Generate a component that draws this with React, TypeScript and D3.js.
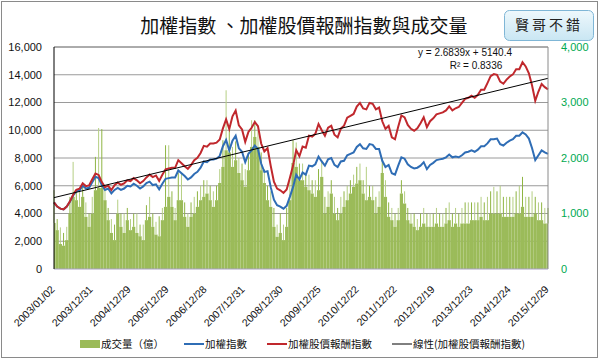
import * as d3 from "d3";

const TITLE = "加權指數 、加權股價報酬指數與成交量";
const BADGE = "賢哥不錯";

const DATE_LABELS = [
  "2003/01/02", "2003/12/31", "2004/12/29", "2005/12/29", "2006/12/28",
  "2007/12/31", "2008/12/30", "2009/12/25", "2010/12/22", "2011/12/22",
  "2012/12/19", "2013/12/23", "2014/12/24", "2015/12/29",
];

// monthly readings, 2003/01 .. 2015/12
const TAIEX = [
  4800, 4500, 4350, 4300, 4500, 4850, 5300, 5600, 5650, 6000, 5800, 5850,
  6250, 6650, 6550, 6050, 5700, 5800, 5450, 5700, 5850, 5700, 5800, 6000,
  5950, 6150, 6000, 5800, 5950, 6200, 6300, 6050, 6100, 5750, 6150, 6500,
  6550, 6600, 6600, 7100, 6900, 6700, 6450, 6600, 6850, 7000, 7300, 7750,
  7700, 7900, 7900, 7950, 8150, 8850, 9300, 8550, 9250, 9600, 8700, 8450,
  7700, 8300, 8550, 8900, 8650, 7600, 7000, 7050, 5900, 5000, 4600, 4500,
  4350, 4550, 5200, 5900, 6800, 6450, 6950, 6800, 7450, 7400, 7550, 8100,
  7750, 7450, 7900, 8000, 7500, 7350, 7750, 7800, 8200, 8300, 8400, 8800,
  9000, 8700, 8650, 9000, 8950, 8650, 8650, 7800, 7350, 7500, 6900, 6800,
  7450, 8050, 7950, 7550, 7350, 7250, 7300, 7450, 7700, 7200, 7500, 7650,
  7850, 7900, 7950, 8050, 8250, 8050, 8100, 8050, 8200, 8400, 8450, 8550,
  8450, 8600, 8850, 8850, 9050, 9350, 9350, 9400, 9000, 8900, 9100, 9250,
  9350, 9600, 9600, 9850, 9700, 9400, 8700, 7850, 8200, 8550, 8400, 8300,
];

const RETURN_INDEX = [
  4800, 4500, 4350, 4300, 4500, 4874, 5353, 5712, 5791, 6180, 5974, 6026,
  6469, 6883, 6779, 6262, 5900, 6003, 5695, 6042, 6230, 6071, 6177, 6390,
  6337, 6550, 6390, 6177, 6337, 6603, 6804, 6625, 6741, 6354, 6796, 7183,
  7238, 7293, 7293, 7846, 7625, 7404, 7224, 7491, 7843, 8015, 8359, 8874,
  8817, 9046, 9046, 9103, 9332, 10133, 10788, 10089, 11008, 11424, 10353, 10056,
  9163, 9877, 10175, 10591, 10294, 9044, 8470, 8707, 7434, 6300, 5796, 5670,
  5481, 5733, 6552, 7434, 8568, 8127, 8827, 8738, 9611, 9546, 9740, 10449,
  9998, 9611, 10191, 10320, 9675, 9482, 10114, 10335, 10906, 11039, 11172, 11704,
  11970, 11571, 11505, 11970, 11904, 11505, 11634, 10647, 10106, 10313, 9488, 9350,
  10244, 11069, 10931, 10381, 10106, 9969, 10147, 10505, 10934, 10224, 10650, 10863,
  11147, 11218, 11289, 11431, 11715, 11431, 11583, 11673, 11972, 12264, 12337, 12483,
  12337, 12556, 12921, 12921, 13400, 13900, 14050, 14000, 13500, 13350, 13650, 13875,
  14025, 14400, 14400, 14900, 14600, 14100, 13224, 12128, 12792, 13338, 13104, 12948,
];

// 成交量（億）: typical monthly level and the highest daily spike
const VOLUME_BASE = [
  830, 700, 450, 420, 520, 1000, 1300, 1240, 1120, 1300, 940, 760,
  1000, 1420, 1460, 1460, 1240, 880, 650, 520, 1000, 760, 650, 880,
  700, 760, 650, 590, 520, 880, 940, 760, 620, 590, 880, 1120,
  1300, 1120, 880, 1240, 1240, 940, 760, 940, 1000, 1120, 1240, 1300,
  1360, 1240, 1120, 1240, 1550, 1840, 2140, 2100, 1840, 1960, 1730, 1600,
  1480, 1780, 2200, 2380, 2200, 1780, 1550, 1240, 1120, 760, 580, 650,
  520, 760, 1240, 1910, 1840, 1600, 1600, 1480, 1420, 1360, 1300, 1420,
  1660, 1000, 1120, 1360, 1000, 880, 1000, 1120, 1240, 1360, 1480, 1540,
  1600, 1360, 1240, 1300, 1240, 1000, 1120, 1730, 1300, 940, 880, 760,
  880, 1360, 1180, 880, 820, 760, 700, 760, 820, 760, 760, 760,
  820, 760, 760, 820, 880, 760, 820, 760, 820, 820, 820, 880,
  880, 880, 940, 880, 880, 1000, 1000, 1000, 1000, 940, 940, 940,
  940, 1000, 1000, 1120, 940, 940, 940, 1000, 880, 880, 820, 820,
];

const VOLUME_PEAK = [
  1420, 900, 750, 650, 760, 1300, 1930, 1430, 1430, 1500, 1200, 1000,
  1300, 2020, 2540, 2520, 1430, 1100, 900, 800, 1250, 1000, 1000, 1100,
  900, 1000, 1000, 800, 800, 1150, 1300, 1000, 850, 950, 1100, 2230,
  2230, 1400, 1100, 1730, 1730, 1200, 1000, 1200, 1300, 1400, 1500, 1600,
  1600, 1500, 1400, 1500, 1800, 2320, 3220, 2560, 2200, 2300, 2000, 1900,
  1800, 2100, 2680, 2680, 2500, 2100, 1800, 1500, 1400, 1100, 800, 1000,
  800, 1100, 1600, 2320, 2280, 1900, 1900, 1700, 1700, 1600, 1600, 1800,
  1960, 1300, 1400, 1600, 1300, 1100, 1300, 1400, 1500, 1600, 1700, 1840,
  1900, 1600, 1840, 1500, 1500, 1300, 1400, 2000, 1600, 1200, 1100, 1000,
  1100, 1600, 1400, 1100, 1000, 1000, 900, 1000, 1100, 1000, 1000, 1000,
  1100, 1000, 1000, 1100, 1200, 1000, 1100, 1000, 1100, 1200, 1200, 1200,
  1200, 1200, 1300, 1200, 1300, 1400, 1480, 1400, 1500, 1300, 1300, 1300,
  1300, 1400, 1500, 1660, 1300, 1300, 1400, 1300, 1200, 1200, 1100, 1100,
];

const LEFT_TICKS = [0, 2000, 4000, 6000, 8000, 10000, 12000, 14000, 16000];
const RIGHT_TICKS = [0, 1000, 2000, 3000, 4000];

// Excel linear trendline on the trading-day index
const TREND_SLOPE = 2.6839;
const TREND_INTERCEPT = 5140.4;
const TREND_R2 = "0.8336";
const TRADING_DAYS = 3205;

const LEGEND = [
  { label: "成交量（億）", kind: "bar", color: "#9bbb59" },
  { label: "加權指數", kind: "line", color: "#2f6db5" },
  { label: "加權股價報酬指數", kind: "line", color: "#c0282d" },
  { label: "線性(加權股價報酬指數)", kind: "trend", color: "#000" },
];

const W = 600;
const H = 362;
const PLOT = { left: 54, right: 548, top: 47, bottom: 269 };
const FONT = "'Liberation Sans', Arial, sans-serif";
const CJK = "'Noto Sans CJK TC', 'Noto Sans', sans-serif";

export default function App() {
  const n = TAIEX.length;
  const x = d3.scaleLinear().domain([0, n - 1]).range([PLOT.left, PLOT.right]);
  const yL = d3.scaleLinear().domain([0, 16000]).range([PLOT.bottom, PLOT.top]);
  const yR = d3.scaleLinear().domain([0, 4000]).range([PLOT.bottom, PLOT.top]);
  const xDay = d3.scaleLinear().domain([1, TRADING_DAYS]).range([PLOT.left, PLOT.right]);
  const step = x(1) - x(0);

  const line = d3
    .line<number>()
    .x((_, i) => x(i))
    .y((d) => yL(d));

  const labelPos = d3
    .scaleLinear()
    .domain([0, DATE_LABELS.length - 1])
    .range([PLOT.left, PLOT.right]);

  const legendX = [80, 184, 267, 392];

  return (
    <svg
      width={W}
      height={H}
      style={{ position: "absolute", left: 0, top: 0, background: "#fff" }}
    >
      <rect x={1.5} y={1.5} width={596} height={356} fill="#fff" stroke="#8a8a8a" />

      <text x={304} y={33} textAnchor="middle" fontFamily={CJK} fontSize={19} fill="#111">
        {TITLE}
      </text>

      <defs>
        <linearGradient id="badge" x1="0" y1="0" x2="0" y2="1">
          <stop offset="0" stopColor="#eef8fc" />
          <stop offset="1" stopColor="#c9e6f3" />
        </linearGradient>
      </defs>
      <rect x={504.5} y={10.5} width={89} height={30} rx={5} fill="url(#badge)" stroke="#7fb6d6" />
      <text x={549} y={30} textAnchor="middle" fontFamily={CJK} fontSize={14} letterSpacing={3} fill="#222">
        {BADGE}
      </text>

      {/* gridlines */}
      {LEFT_TICKS.filter((t) => t > 0).map((t) => (
        <line key={t} x1={PLOT.left} x2={PLOT.right} y1={yL(t)} y2={yL(t)} stroke="#9a9a9a" />
      ))}

      {/* volume */}
      <g>
        {VOLUME_BASE.map((v, i) => {
          const x0 = Math.max(PLOT.left, x(i) - step / 2);
          const x1 = Math.min(PLOT.right, x(i) + step / 2);
          return <rect key={i} x={x0} y={yR(v)} width={x1 - x0} height={PLOT.bottom - yR(v)} fill="#9bbb59" />;
        })}
        {VOLUME_PEAK.map((v, i) =>
          v > VOLUME_BASE[i] ? (
            <line
              key={i}
              x1={x(i)}
              x2={x(i)}
              y1={yR(v)}
              y2={yR(VOLUME_BASE[i])}
              stroke={i % 2 ? "#8fb543" : "#b5cf83"}
              strokeWidth={1}
            />
          ) : null
        )}
      </g>

      <path d={line(TAIEX) ?? ""} fill="none" stroke="#2f6db5" strokeWidth={2} />
      <path d={line(RETURN_INDEX) ?? ""} fill="none" stroke="#c0282d" strokeWidth={2} />
      <line
        x1={xDay(1)}
        x2={xDay(TRADING_DAYS)}
        y1={yL(TREND_SLOPE * 1 + TREND_INTERCEPT)}
        y2={yL(TREND_SLOPE * TRADING_DAYS + TREND_INTERCEPT)}
        stroke="#000"
        strokeWidth={1}
      />

      {/* plot frame */}
      <line x1={PLOT.left} x2={PLOT.right} y1={PLOT.top} y2={PLOT.top} stroke="#8a8a8a" />
      <line x1={PLOT.right} x2={PLOT.right} y1={PLOT.top} y2={PLOT.bottom} stroke="#8a8a8a" />
      <line x1={PLOT.left} x2={PLOT.right} y1={PLOT.bottom} y2={PLOT.bottom} stroke="#a9a0c4" />
      <line x1={PLOT.left} x2={PLOT.left} y1={PLOT.top} y2={PLOT.bottom} stroke="#000" />

      {/* axes */}
      {LEFT_TICKS.map((t) => (
        <text key={t} x={42} y={yL(t)} dy="0.35em" textAnchor="end" fontFamily={FONT} fontSize={11} fill="#111">
          {d3.format(",")(t)}
        </text>
      ))}
      {RIGHT_TICKS.map((t) => (
        <text key={t} x={561} y={yR(t)} dy="0.35em" fontFamily={FONT} fontSize={11} fill="#00a94f">
          {d3.format(",")(t)}
        </text>
      ))}
      {DATE_LABELS.map((d, i) => (
        <text
          key={d}
          transform={`translate(${labelPos(i) + 1.5},${PLOT.bottom + 21}) rotate(-45)`}
          textAnchor="end"
          fontFamily={FONT}
          fontSize={10.5}
          fill="#111"
        >
          {d}
        </text>
      ))}

      {/* trend equation */}
      <text x={465} y={56} textAnchor="middle" fontFamily={FONT} fontSize={10} fill="#111">
        {`y = ${TREND_SLOPE}x + ${TREND_INTERCEPT}`}
      </text>
      <text x={476} y={69} textAnchor="middle" fontFamily={FONT} fontSize={10} fill="#111">
        {`R² = ${TREND_R2}`}
      </text>

      {/* legend */}
      {LEGEND.map((item, i) => {
        const lx = legendX[i];
        return (
          <g key={item.label}>
            {item.kind === "bar" ? (
              <rect x={lx} y={340} width={20} height={8} fill={item.color} />
            ) : (
              <line
                x1={lx}
                x2={lx + 20}
                y1={344}
                y2={344}
                stroke={item.color}
                strokeWidth={item.kind === "trend" ? 1 : 2}
              />
            )}
            <text x={lx + 21} y={344} dy="0.35em" fontFamily={CJK} fontSize={10.5} fill="#111">
              {item.label}
            </text>
          </g>
        );
      })}
    </svg>
  );
}
